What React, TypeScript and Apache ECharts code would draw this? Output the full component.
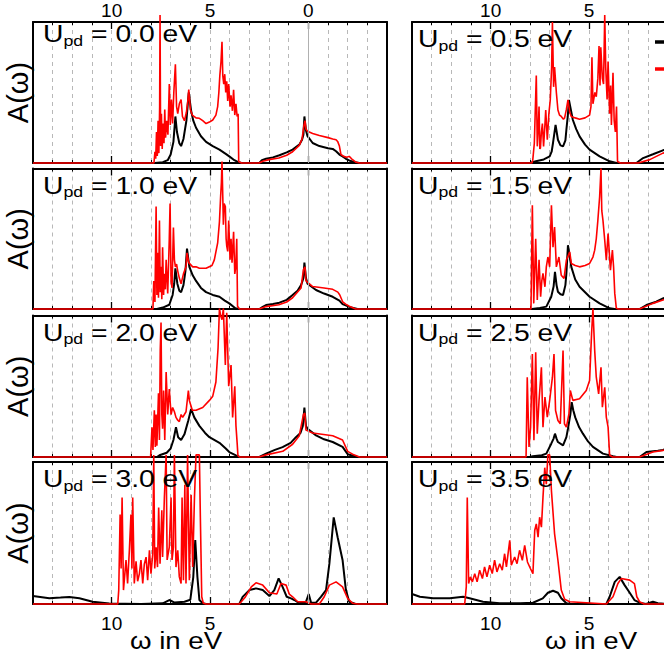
import React, { useEffect, useRef } from 'react';
import * as echarts from 'echarts';

type Pt = [number, number];
const FONT = '"Liberation Sans", Arial, Helvetica, sans-serif';

const updValues = ['0.0', '0.5', '1.0', '1.5', '2.0', '2.5', '3.0', '3.5'];
const majorTickValues = [0, 5, 10];
const visibleTickLabels = [[0, 5, 10], [5, 10]];
const X_MIN = -4;
const X_MAX = 14;
const xTitle = 'ω in eV';
const yTitle = 'A(ω)';

// ---- U_pd = 0.0 eV ----
const black00: Pt[] = [[14,0],[7.8,0],[7.4,0.006],[7.15,0.02],[7.0,0.06],[6.86,0.15],[6.76,0.33],[6.68,0.22],[6.56,0.14],[6.47,0.12],[6.35,0.17],[6.2,0.3],[6.08,0.5],[5.96,0.37],[5.85,0.3],[5.71,0.25],[5.46,0.19],[5.2,0.15],[4.86,0.12],[4.52,0.095],[4.2,0.065],[4.02,0.047],[3.76,0.02],[3.59,0.008],[3.4,0],[2.49,0],[2.36,0.02],[2.15,0.03],[1.8,0.04],[1.47,0.055],[1.1,0.075],[0.8,0.095],[0.46,0.13],[0.32,0.165],[0.25,0.2],[0.2,0.33],[0.12,0.23],[0.04,0.19],[-0.22,0.142],[-0.56,0.12],[-1.0,0.105],[-1.24,0.1],[-1.41,0.083],[-1.58,0.06],[-1.74,0.047],[-1.91,0.03],[-2.08,0.018],[-2.3,0.008],[-2.6,0],[-4,0]];
const red00: Pt[] = [[14,0],[7.85,0],[7.8,0.08],[7.76,0.03],[7.72,0.22],[7.68,0.05],[7.64,0.3],[7.6,0.07],[7.56,0.4],[7.54,1.05],[7.51,0.12],[7.47,0.35],[7.43,0.1],[7.39,0.28],[7.34,0.14],[7.3,0.38],[7.26,0.18],[7.2,0.3],[7.14,0.2],[7.07,0.56],[7.02,0.27],[6.96,0.45],[6.9,0.28],[6.84,0.5],[6.76,0.7],[6.7,0.4],[6.64,0.35],[6.56,0.42],[6.47,0.45],[6.4,0.33],[6.3,0.3],[6.2,0.36],[6.12,0.45],[6.08,0.52],[6.0,0.38],[5.9,0.34],[5.71,0.32],[5.54,0.317],[5.37,0.3],[5.2,0.28],[5.03,0.29],[4.86,0.305],[4.7,0.34],[4.61,0.4],[4.55,0.5],[4.5,0.62],[4.44,0.72],[4.39,0.86],[4.35,0.62],[4.3,0.56],[4.25,0.63],[4.2,0.5],[4.15,0.58],[4.1,0.44],[4.05,0.56],[3.98,0.4],[3.93,0.48],[3.86,0.37],[3.8,0.52],[3.74,0.34],[3.68,0.42],[3.62,0.33],[3.57,0.35],[3.54,0.01],[3.4,0],[2.5,0],[2.32,0.012],[2.0,0.024],[1.5,0.035],[1.1,0.055],[0.8,0.08],[0.46,0.125],[0.32,0.17],[0.22,0.27],[0.17,0.3],[0.12,0.24],[0.04,0.225],[-0.22,0.21],[-0.56,0.195],[-1.0,0.18],[-1.24,0.17],[-1.41,0.165],[-1.5,0.15],[-1.58,0.12],[-1.66,0.06],[-1.8,0.047],[-1.95,0.04],[-2.08,0.047],[-2.2,0.03],[-2.43,0.005],[-2.6,0],[-4,0]];

// ---- U_pd = 0.5 eV ----
const black05: Pt[] = [[14,0],[8.0,0],[7.7,0.012],[7.3,0.025],[7.0,0.047],[6.9,0.08],[6.83,0.142],[6.7,0.27],[6.58,0.165],[6.45,0.125],[6.32,0.118],[6.2,0.16],[6.15,0.236],[6.08,0.33],[6.02,0.447],[5.82,0.305],[5.65,0.24],[5.48,0.189],[5.2,0.13],[4.97,0.095],[4.46,0.047],[3.95,0.012],[3.6,0],[2.59,0],[2.25,0.035],[1.75,0.062],[1.24,0.09],[1.0,0.1]];
const red05: Pt[] = [[14,0],[7.9,0],[7.86,0.02],[7.78,0.14],[7.68,0.62],[7.63,0.118],[7.58,0.25],[7.54,0.4],[7.5,0.1],[7.47,0.106],[7.42,0.22],[7.37,0.28],[7.31,0.118],[7.25,0.25],[7.2,0.376],[7.12,0.165],[7.04,0.35],[6.97,0.447],[6.9,0.68],[6.86,1.0],[6.8,0.54],[6.75,0.68],[6.66,0.5],[6.58,0.376],[6.5,0.34],[6.41,0.33],[6.3,0.31],[6.24,0.32],[6.15,0.38],[6.07,0.447],[5.98,0.36],[5.9,0.33],[5.7,0.32],[5.48,0.31],[5.2,0.32],[4.97,0.34],[4.9,0.4],[4.85,0.75],[4.8,0.42],[4.7,0.5],[4.63,0.47],[4.55,0.6],[4.49,0.83],[4.44,0.55],[4.4,0.82],[4.32,0.6],[4.26,0.56],[4.2,1.05],[4.15,0.68],[4.08,0.45],[4.03,0.72],[3.95,0.35],[3.9,0.55],[3.86,0.27],[3.78,0.64],[3.72,0.3],[3.66,0.22],[3.6,0.4],[3.55,0.01],[3.4,0],[2.5,0],[1.91,0.024],[1.24,0.07],[1.0,0.08]];

// ---- U_pd = 1.0 eV ----
const black10: Pt[] = [[14,0],[7.7,0],[7.4,0.01],[7.07,0.03],[6.9,0.1],[6.82,0.18],[6.76,0.29],[6.66,0.18],[6.56,0.13],[6.47,0.12],[6.35,0.17],[6.25,0.27],[6.17,0.43],[6.05,0.3],[5.88,0.24],[5.71,0.2],[5.46,0.15],[5.2,0.12],[4.86,0.1],[4.52,0.087],[4.25,0.06],[4.02,0.04],[3.71,0.005],[3.5,0],[2.49,0],[2.32,0.015],[2.15,0.028],[1.8,0.035],[1.47,0.045],[1.1,0.065],[0.8,0.1],[0.55,0.13],[0.37,0.17],[0.25,0.22],[0.2,0.33],[0.12,0.22],[0.04,0.18],[-0.39,0.135],[-0.8,0.11],[-1.24,0.087],[-1.58,0.06],[-1.74,0.035],[-2.08,0.015],[-2.5,0],[-4,0]];
const red10: Pt[] = [[14,0],[7.9,0],[7.86,0.2],[7.8,0.05],[7.74,0.73],[7.7,0.1],[7.66,0.4],[7.62,0.08],[7.57,0.63],[7.53,0.12],[7.49,0.3],[7.45,0.07],[7.41,0.44],[7.36,0.1],[7.32,0.25],[7.27,0.14],[7.23,0.35],[7.15,0.11],[7.07,0.5],[7.03,0.75],[6.98,0.2],[6.93,0.15],[6.86,0.58],[6.81,0.35],[6.76,0.3],[6.7,0.32],[6.64,0.27],[6.56,0.22],[6.47,0.18],[6.35,0.25],[6.22,0.3],[6.17,0.4],[6.08,0.33],[5.88,0.3],[5.71,0.3],[5.54,0.29],[5.2,0.29],[4.9,0.31],[4.78,0.35],[4.61,0.47],[4.52,0.62],[4.46,0.8],[4.42,0.9],[4.39,1.05],[4.35,0.8],[4.32,0.6],[4.28,0.75],[4.22,0.73],[4.18,0.5],[4.15,0.45],[4.1,0.41],[4.05,0.63],[3.98,0.35],[3.93,0.5],[3.88,0.33],[3.8,0.55],[3.74,0.25],[3.69,0.3],[3.64,0.5],[3.6,0.02],[3.5,0],[2.5,0],[2.15,0.017],[1.5,0.03],[1.1,0.05],[0.8,0.08],[0.37,0.15],[0.25,0.28],[0.17,0.3],[0.12,0.2],[-0.22,0.16],[-0.8,0.15],[-1.24,0.14],[-1.5,0.12],[-1.6,0.1],[-1.75,0.05],[-1.9,0.035],[-2.08,0.02],[-2.4,0],[-4,0]];

// ---- U_pd = 1.5 eV ----
const black15: Pt[] = [[14,0],[7.9,0],[7.5,0.008],[7.17,0.017],[6.92,0.087],[6.8,0.16],[6.73,0.265],[6.65,0.17],[6.58,0.123],[6.45,0.105],[6.32,0.1],[6.2,0.17],[6.15,0.253],[6.07,0.454],[5.9,0.3],[5.7,0.21],[5.48,0.158],[4.97,0.087],[4.46,0.04],[3.95,0.005],[3.7,0],[2.43,0],[2.08,0.028],[1.58,0.052],[1.24,0.075],[1.0,0.09]];
const red15: Pt[] = [[14,0],[7.95,0],[7.88,0.738],[7.81,0.04],[7.71,0.5],[7.63,0.064],[7.54,0.35],[7.46,0.087],[7.4,0.2],[7.34,0.253],[7.24,0.158],[7.17,0.3],[7.09,0.37],[7.0,0.3],[6.91,0.738],[6.83,0.44],[6.75,0.584],[6.66,0.3],[6.53,0.37],[6.41,0.24],[6.27,0.217],[6.15,0.348],[5.98,0.407],[5.9,0.324],[5.7,0.31],[5.48,0.3],[5.2,0.31],[4.97,0.324],[4.8,0.37],[4.71,0.419],[4.63,0.5],[4.55,0.63],[4.46,0.797],[4.39,1.0],[4.35,0.7],[4.29,0.631],[4.2,0.489],[4.12,0.348],[4.03,0.537],[3.91,0.277],[3.81,0.419],[3.75,0.3],[3.69,0.111],[3.61,0.005],[3.5,0],[2.43,0],[1.75,0.04],[1.24,0.064],[1.0,0.075]];

// ---- U_pd = 2.0 eV ----
const black20: Pt[] = [[14,0],[7.7,0],[7.57,0.012],[7.2,0.03],[7.0,0.06],[6.86,0.12],[6.73,0.21],[6.62,0.14],[6.47,0.12],[6.3,0.16],[6.1,0.26],[5.96,0.34],[5.8,0.28],[5.54,0.22],[5.25,0.17],[5.03,0.14],[4.52,0.1],[4.2,0.06],[4.02,0.035],[3.68,0.012],[3.5,0],[2.49,0],[2.15,0.024],[1.7,0.05],[1.31,0.07],[0.9,0.1],[0.63,0.14],[0.4,0.17],[0.28,0.22],[0.2,0.35],[0.12,0.22],[0.04,0.2],[-0.39,0.153],[-0.8,0.125],[-1.24,0.106],[-1.74,0.071],[-1.9,0.04],[-2.0,0.02],[-2.5,0],[-4,0]];
const red20: Pt[] = [[14,0],[8.02,0],[7.95,0.21],[7.9,0.05],[7.83,0.33],[7.78,0.07],[7.74,0.3],[7.7,0.08],[7.62,0.45],[7.57,0.12],[7.53,0.75],[7.49,0.95],[7.45,0.3],[7.41,0.2],[7.36,0.47],[7.3,0.12],[7.23,0.6],[7.15,0.3],[7.07,0.48],[6.98,0.3],[6.9,0.35],[6.81,0.32],[6.73,0.28],[6.64,0.26],[6.56,0.25],[6.47,0.3],[6.39,0.28],[6.22,0.32],[6.1,0.47],[6.05,0.4],[5.9,0.33],[5.71,0.33],[5.37,0.35],[5.03,0.4],[4.86,0.43],[4.7,0.53],[4.59,0.77],[4.52,1.05],[4.46,1.0],[4.39,0.97],[4.32,1.05],[4.22,0.65],[4.15,1.02],[4.05,0.5],[3.93,0.65],[3.85,0.28],[3.74,0.5],[3.68,0.22],[3.62,0.1],[3.58,0.01],[3.5,0],[2.5,0],[2.15,0.015],[1.3,0.04],[0.8,0.09],[0.46,0.15],[0.25,0.3],[0.18,0.31],[0.12,0.19],[-0.22,0.17],[-1.24,0.15],[-1.74,0.12],[-2.0,0.04],[-2.25,0.02],[-2.6,0],[-4,0]];

// ---- U_pd = 2.5 eV ----
const black25: Pt[] = [[14,0],[8.02,0],[7.86,0.005],[7.4,0.012],[7.17,0.024],[6.92,0.094],[6.8,0.13],[6.73,0.165],[6.65,0.13],[6.58,0.106],[6.32,0.082],[6.15,0.14],[6.07,0.2],[5.95,0.3],[5.88,0.388],[5.8,0.33],[5.7,0.28],[5.5,0.21],[5.31,0.165],[5.05,0.11],[4.8,0.071],[4.29,0.024],[3.78,0.005],[3.6,0],[2.43,0],[2.08,0.035],[1.5,0.045],[1.24,0.05],[1.0,0.06]];
const red25: Pt[] = [[14,0],[8.2,0],[8.14,0.564],[8.05,0.071],[7.97,0.211],[7.88,0.728],[7.8,0.118],[7.71,0.74],[7.63,0.165],[7.54,0.4],[7.42,0.634],[7.34,0.211],[7.24,0.423],[7.12,0.282],[7.0,0.4],[6.86,0.564],[6.78,0.728],[6.7,0.329],[6.58,0.258],[6.46,0.235],[6.32,0.752],[6.25,0.235],[6.15,0.211],[6.02,0.305],[5.95,0.47],[5.82,0.4],[5.48,0.411],[5.14,0.47],[4.97,0.54],[4.87,0.869],[4.8,1.05],[4.71,0.752],[4.63,0.564],[4.51,0.446],[4.39,0.634],[4.32,0.352],[4.2,0.493],[4.12,0.282],[4.03,0.211],[3.95,0.012],[3.8,0],[2.43,0],[1.75,0.035],[1.24,0.047],[1.0,0.05]];

// ---- U_pd = 3.0 eV ----
const black30: Pt[] = [[14,0.056],[13.17,0.04],[12.6,0.045],[12.15,0.05],[11.64,0.04],[10.97,0.016],[10.12,0.003],[8.5,0],[7.4,0.005],[7.07,0.028],[6.8,0.01],[6.3,0.016],[6.0,0.03],[5.85,0.19],[5.75,0.45],[5.64,0.19],[5.54,0.028],[5.37,0.005],[5.2,0],[3.51,0],[3.34,0.05],[3.0,0.098],[2.66,0.11],[2.32,0.098],[1.98,0.056],[1.73,0.098],[1.51,0.18],[1.31,0.121],[1.1,0.051],[0.88,0.04],[0.71,0.028],[0.46,0.005],[0.12,0.016],[-0.02,0.07],[-0.14,0.009],[-0.39,0.009],[-0.64,0.05],[-0.9,0.098],[-1.07,0.284],[-1.29,0.61],[-1.49,0.47],[-1.74,0.31],[-1.91,0.098],[-2.08,0.016],[-2.4,0],[-4,0]];
const red30: Pt[] = [[14,0],[9.69,0],[9.64,0.098],[9.57,0.63],[9.52,0.25],[9.47,0.75],[9.4,0.098],[9.27,0.31],[9.19,0.144],[9.1,0.378],[9.02,0.63],[8.97,0.25],[8.93,0.75],[8.85,0.144],[8.76,0.3],[8.68,0.16],[8.59,0.214],[8.51,0.31],[8.42,0.144],[8.34,0.28],[8.25,0.33],[8.17,0.168],[8.08,0.378],[8.0,0.214],[7.91,0.354],[7.86,1.05],[7.81,0.25],[7.74,0.4],[7.67,0.26],[7.61,0.68],[7.54,0.284],[7.45,0.66],[7.41,0.331],[7.32,0.75],[7.23,1.05],[7.18,0.31],[7.07,0.4],[6.98,0.75],[6.93,0.31],[6.86,0.4],[6.81,1.05],[6.73,0.26],[6.64,0.378],[6.56,0.191],[6.47,0.144],[6.42,0.75],[6.35,0.168],[6.28,0.84],[6.22,0.144],[6.14,1.05],[6.05,0.168],[5.96,0.77],[5.88,0.261],[5.79,0.75],[5.71,1.05],[5.62,1.05],[5.54,1.05],[5.49,0.611],[5.42,0.051],[5.34,0.005],[5.2,0],[3.51,0],[3.2,0.05],[2.9,0.121],[2.66,0.149],[2.32,0.133],[1.98,0.079],[1.6,0.07],[1.39,0.144],[1.13,0.133],[0.97,0.07],[0.8,0.051],[0.54,0.016],[0.12,0.016],[-0.14,0],[-0.56,0],[-0.81,0.051],[-1.07,0.133],[-1.41,0.156],[-1.74,0.121],[-2.0,0.04],[-2.25,0.005],[-2.5,0],[-4,0]];

// ---- U_pd = 3.5 eV ----
const black35: Pt[] = [[14,0.07],[13.6,0.051],[12.93,0.04],[12.08,0.04],[11.4,0.051],[11.07,0.04],[10.39,0.016],[9.54,0.005],[8.5,0.005],[7.85,0.009],[7.35,0.04],[7.09,0.079],[6.83,0.093],[6.58,0.079],[6.41,0.04],[6.15,0.005],[5.9,0],[4.12,0],[3.95,0.051],[3.69,0.156],[3.44,0.191],[3.19,0.133],[2.93,0.079],[2.69,0.028],[2.43,0.009],[2.1,0],[1.75,0.016],[1.5,0.005],[1.0,0]];
const red35: Pt[] = [[14,0],[11.32,0],[11.24,0.121],[11.19,0.75],[11.12,0.144],[11.03,0.191],[10.93,0.156],[10.81,0.214],[10.69,0.156],[10.56,0.238],[10.42,0.179],[10.31,0.261],[10.19,0.191],[10.05,0.273],[9.92,0.214],[9.8,0.308],[9.68,0.226],[9.54,0.284],[9.41,0.238],[9.29,0.354],[9.2,0.261],[9.03,0.448],[8.95,0.273],[8.78,0.331],[8.66,0.284],[8.53,0.378],[8.39,0.308],[8.27,0.413],[8.13,0.296],[7.98,0.25],[7.85,0.214],[7.76,0.518],[7.68,0.564],[7.59,0.471],[7.51,0.611],[7.42,0.541],[7.34,0.751],[7.25,0.96],[7.17,0.844],[7.09,1.05],[7.0,1.05],[6.91,0.797],[6.75,0.494],[6.58,0.308],[6.41,0.098],[6.24,0.033],[5.98,0.016],[5.14,0.009],[4.12,0],[3.78,0.051],[3.53,0.144],[3.36,0.179],[2.93,0.168],[2.69,0.144],[2.57,0.051],[2.43,0.016],[2.2,0],[1.0,0]];

const blackSeries: Pt[][] = [black00, black05, black10, black15, black20, black25, black30, black35];
const redSeries: Pt[][] = [red00, red05, red10, red15, red20, red25, red30, red35];

const CHART_W = 800;
const COL_LEFT = [33, 412];
const GRID_W = 354;
const ROW_TOP = [22, 168.5, 315.5, 462];
const ROW_H = [141, 140.5, 141.5, 142];

function buildOption() {
  const grid: any[] = [];
  const xAxis: any[] = [];
  const yAxis: any[] = [];
  const series: any[] = [];
  const graphic: any[] = [];
  const n = updValues.length;

  for (let k = 0; k < 2; k++) {
    for (let i = 0; i < n; i++) {
      const row = Math.floor(i / 2);
      const col = i % 2;
      grid.push({ left: COL_LEFT[col], top: ROW_TOP[row], width: GRID_W, height: ROW_H[row], containLabel: false });
    }
  }

  const baseX = { type: 'value', min: X_MIN, max: X_MAX, interval: 1, inverse: true };
  for (let i = 0; i < n; i++) {
    const row = Math.floor(i / 2);
    const col = i % 2;
    ['top', 'bottom'].forEach((pos) => {
      const showLabels = (pos === 'top' && row === 0) || (pos === 'bottom' && row === 3);
      xAxis.push({
        ...baseX,
        gridIndex: i,
        position: pos,
        axisLine: { show: true, onZero: false, lineStyle: { color: '#000', width: 2 } },
        axisTick: { show: true, inside: true, length: 3, lineStyle: { color: '#000', width: 1 } },
        axisLabel: {
          show: showLabels,
          customValues: visibleTickLabels[col],
          color: '#000',
          fontSize: 19,
          fontFamily: FONT,
          margin: pos === 'top' ? 2 : 10,
        },
        splitLine: { show: pos === 'top', lineStyle: { color: '#b8b8b8', type: [4, 4], width: 1 } },
      });
    });
  }
  for (let i = 0; i < n; i++) {
    ['top', 'bottom'].forEach((pos) => {
      xAxis.push({
        ...baseX,
        gridIndex: n + i,
        position: pos,
        axisLine: { show: false, onZero: false },
        axisTick: { show: true, inside: true, length: 7, customValues: majorTickValues, lineStyle: { color: '#000', width: 1.3 } },
        axisLabel: { show: false },
        splitLine: { show: false },
      });
    });
  }
  for (let i = 0; i < n; i++) {
    ['left', 'right'].forEach((pos) => {
      yAxis.push({
        type: 'value', gridIndex: i, position: pos, min: 0, max: 1,
        axisLine: { show: true, onZero: false, lineStyle: { color: '#000', width: 2 } },
        axisTick: { show: false }, axisLabel: { show: false }, splitLine: { show: false },
      });
    });
  }
  for (let i = 0; i < n; i++) {
    yAxis.push({ type: 'value', gridIndex: n + i, min: 0, max: 1, show: false, axisLine: { onZero: false } });
  }

  for (let i = 0; i < n; i++) {
    series.push({
      type: 'line', xAxisIndex: 2 * i + 1, yAxisIndex: 2 * i, data: [], z: 1, silent: true,
      markLine: {
        silent: true, symbol: ['none', 'none'], label: { show: false },
        lineStyle: { color: '#b0b0b0', type: 'solid', width: 1 },
        data: [{ xAxis: 0 }],
      },
    });
    series.push({
      type: 'line', name: 'black', xAxisIndex: 2 * i + 1, yAxisIndex: 2 * i, data: blackSeries[i],
      showSymbol: false, symbol: 'none', clip: false, silent: true, z: 3,
      lineStyle: { color: '#000', width: 2 }, itemStyle: { color: '#000' },
    });
    series.push({
      type: 'line', name: 'red', xAxisIndex: 2 * i + 1, yAxisIndex: 2 * i, data: redSeries[i],
      showSymbol: false, symbol: 'none', clip: false, silent: true, z: 4,
      lineStyle: { color: '#ff0000', width: 1.6 }, itemStyle: { color: '#ff0000' },
    });
  }

  // U_pd labels
  for (let i = 0; i < n; i++) {
    const row = Math.floor(i / 2);
    const col = i % 2;
    const baseline = i === 0 ? 43 : ROW_TOP[row] + 26;
    graphic.push({
      type: 'text', x: col === 0 ? 43 : 418, y: baseline - 21, scaleX: 1.18, silent: true, z: 10,
      style: {
        text: `{u|U}{s|pd}{u| = ${updValues[i]} eV}`,
        align: 'left', verticalAlign: 'top', fill: '#000',
        rich: {
          u: { fontSize: 24, fontFamily: FONT, fill: '#000', lineHeight: 30, verticalAlign: 'top' },
          s: { fontSize: 15, fontFamily: FONT, fill: '#000', lineHeight: 15, padding: [11, 0, 0, 0], verticalAlign: 'top' },
        },
      },
    });
  }
  // A(ω) labels
  for (let row = 0; row < 4; row++) {
    graphic.push({
      type: 'text', x: 18, y: ROW_TOP[row] + ROW_H[row] / 2, rotation: Math.PI / 2, silent: true,
      style: { text: yTitle, fontSize: 29, fontFamily: FONT, fill: '#000', align: 'center', verticalAlign: 'middle' },
    });
  }
  // x-axis titles
  [176, 591].forEach((cx) => {
    graphic.push({
      type: 'text', x: cx, y: 641, scaleX: 1.15, silent: true,
      style: { text: xTitle, fontSize: 24, fontFamily: FONT, fill: '#000', align: 'center', verticalAlign: 'middle' },
    });
  });
  // legend line samples (their labels lie beyond the visible area)
  graphic.push({ type: 'line', silent: true, shape: { x1: 655, y1: 42, x2: 700, y2: 42 }, style: { stroke: '#000', lineWidth: 3.5 } });
  graphic.push({ type: 'line', silent: true, shape: { x1: 655, y1: 69, x2: 700, y2: 69 }, style: { stroke: '#ff0000', lineWidth: 3.5 } });

  return {
    animation: false,
    backgroundColor: '#ffffff',
    grid, xAxis, yAxis, series, graphic,
  };
}

export default function App() {
  const ref = useRef<HTMLDivElement>(null);
  useEffect(() => {
    if (!ref.current) return;
    const chart = echarts.init(ref.current, undefined, { renderer: 'svg' });
    chart.setOption(buildOption() as any);
    return () => chart.dispose();
  }, []);
  return (
    <div style={{ position: 'absolute', left: 0, top: 0, width: 664, height: 656, overflow: 'hidden', background: '#fff' }}>
      <div ref={ref} style={{ width: CHART_W, height: 656 }} />
    </div>
  );
}
